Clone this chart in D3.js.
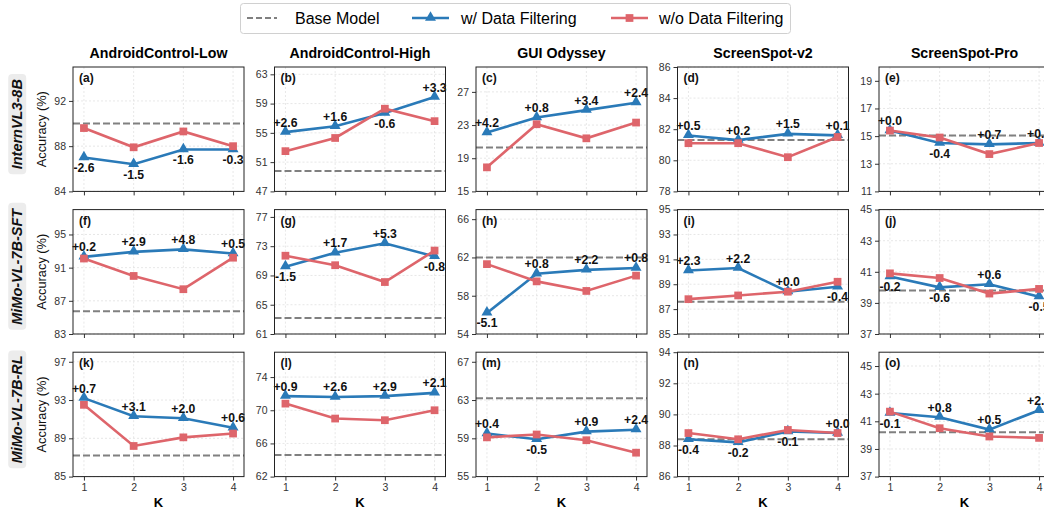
<!DOCTYPE html>
<html>
<head>
<meta charset="utf-8">
<script src="https://cdn.jsdelivr.net/npm/d3@7"></script>
<style>
  body { margin: 0; background: #fff; }
  text { font-family: "Liberation Sans", Arial, sans-serif; }
</style>
</head>
<body>
<svg id="chart" width="1044" height="512"></svg>
<script>
// columns / rows of the grid
var datasets = ["AndroidControl-Low", "AndroidControl-High", "GUI Odyssey", "ScreenSpot-v2", "ScreenSpot-Pro"];
var models = ["InternVL3-8B", "MiMo-VL-7B-SFT", "MiMo-VL-7B-RL"];
var kValues = [1, 2, 3, 4];
var panelTags = ["a", "b", "c", "d", "e", "f", "g", "h", "i", "j", "k", "l", "m", "n", "o"];

var baseModel = [
  [90.0, 49.8, 20.3, 81.3, 15.05],
  [85.75, 63.2, 62.0, 87.6, 39.8],
  [87.2, 64.6, 63.2, 88.4, 40.2]
];

// w/ Data Filtering
var withFilter = [
  [[87.0, 86.4, 87.7, 87.7], [55.1, 55.9, 57.7, 59.9], [22.1, 23.9, 24.8, 25.7], [81.6, 81.3, 81.7, 81.6], [15.4, 14.5, 14.4, 14.5]],
  [[92.3, 92.9, 93.2, 92.7], [70.2, 72.1, 73.4, 71.6], [56.2, 60.3, 60.7, 60.9], [90.1, 90.3, 88.4, 88.8], [40.7, 40.0, 40.2, 39.4]],
  [[93.2, 91.3, 91.1, 90.1], [71.7, 71.6, 71.7, 72.1], [59.5, 58.9, 59.7, 59.9], [88.4, 88.2, 88.9, 88.8], [41.6, 41.3, 40.4, 41.8]]
];

// w/o Data Filtering
var withoutFilter = [
  [[89.6, 87.9, 89.3, 88.0], [52.5, 54.3, 58.3, 56.6], [17.9, 23.1, 21.4, 23.3], [81.1, 81.1, 80.2, 81.5], [15.4, 14.9, 13.7, 14.5]],
  [[92.1, 90.0, 88.4, 92.2], [71.7, 70.4, 68.1, 72.4], [61.3, 59.5, 58.5, 60.1], [87.8, 88.1, 88.4, 89.2], [40.9, 40.6, 39.6, 39.9]],
  [[92.5, 88.2, 89.1, 89.5], [70.8, 69.0, 68.8, 70.0], [59.1, 59.4, 58.8, 57.5], [88.8, 88.4, 89.0, 88.8], [41.7, 40.5, 39.9, 39.8]]
];

var deltas = [
  [["-2.6", "-1.5", "-1.6", "-0.3"], ["+2.6", "+1.6", "-0.6", "+3.3"], ["+4.2", "+0.8", "+3.4", "+2.4"], ["+0.5", "+0.2", "+1.5", "+0.1"], ["+0.0", "-0.4", "+0.7", "+0.0"]],
  [["+0.2", "+2.9", "+4.8", "+0.5"], ["-1.5", "+1.7", "+5.3", "-0.8"], ["-5.1", "+0.8", "+2.2", "+0.8"], ["+2.3", "+2.2", "+0.0", "-0.4"], ["-0.2", "-0.6", "+0.6", "-0.5"]],
  [["+0.7", "+3.1", "+2.0", "+0.6"], ["+0.9", "+2.6", "+2.9", "+2.1"], ["+0.4", "-0.5", "+0.9", "+2.4"], ["-0.4", "-0.2", "-0.1", "+0.0"], ["-0.1", "+0.8", "+0.5", "+2.0"]]
];

var yDomains = [
  [[84, 95], [47, 64], [15, 30], [78, 86], [11, 20]],
  [[83, 98], [61, 78], [54, 67], [85, 95], [37, 45]],
  [[85, 98], [62, 77], [55, 68], [86, 94], [37, 46]]
];

var yTicks = [
  [[84, 88, 92], [47, 51, 55, 59, 63], [15, 19, 23, 27], [78, 80, 82, 84, 86], [11, 13, 15, 17, 19]],
  [[83, 87, 91, 95], [61, 65, 69, 73, 77], [54, 58, 62, 66], [85, 87, 89, 91, 93, 95], [37, 39, 41, 43, 45]],
  [[85, 89, 93, 97], [62, 66, 70, 74], [55, 59, 63, 67], [86, 88, 90, 92, 94], [37, 39, 41, 43, 45]]
];

var blue = "#2a7ab8", red = "#de656b", gray = "#808080";

var svg = d3.select("#chart");

var pw = 171, ph = 124.4;
var colX = function(c) { return 73 + c * 201.5; };
var rowY = function(r) { return 67 + r * 142.6; };

var x = d3.scaleLinear().domain([0.78, 4.22]).range([0, pw]);

var triangle = d3.symbol().type(d3.symbolTriangle).size(52);
var square = d3.symbol().type(d3.symbolSquare).size(60);

// legend
var leg = svg.append("g");
leg.append("rect").attr("x", 240.5).attr("y", 3.5).attr("width", 550).attr("height", 30)
  .attr("rx", 3).attr("fill", "#fff").attr("stroke", "#d0d0d0");
leg.append("line").attr("x1", 247).attr("x2", 277).attr("y1", 18).attr("y2", 18)
  .attr("stroke", gray).attr("stroke-width", 2).attr("stroke-dasharray", "6,3");
leg.append("text").attr("x", 295).attr("y", 24).attr("font-size", 16).text("Base Model");
leg.append("line").attr("x1", 412).attr("x2", 449).attr("y1", 18).attr("y2", 18)
  .attr("stroke", blue).attr("stroke-width", 2.5);
leg.append("path").attr("d", triangle).attr("transform", "translate(430.5,17.5)").attr("fill", blue);
leg.append("text").attr("x", 461).attr("y", 24).attr("font-size", 16).text("w/ Data Filtering");
leg.append("line").attr("x1", 611).attr("x2", 648).attr("y1", 18).attr("y2", 18)
  .attr("stroke", red).attr("stroke-width", 2.5);
leg.append("path").attr("d", square).attr("transform", "translate(629.5,18)").attr("fill", red);
leg.append("text").attr("x", 659).attr("y", 24).attr("font-size", 16).text("w/o Data Filtering");

// column titles
datasets.forEach(function(name, c) {
  svg.append("text").attr("x", colX(c) + pw / 2).attr("y", 58)
    .attr("text-anchor", "middle").attr("font-size", 14.2).attr("font-weight", "bold")
    .text(name);
});

// row labels
models.forEach(function(name, r) {
  var cy = rowY(r) + ph / 2 - 5;
  var g = svg.append("g").attr("transform", "translate(17," + cy + ") rotate(-90)");
  var t = g.append("text").attr("text-anchor", "middle").attr("dy", "0.36em")
    .attr("font-size", 14.5).attr("font-weight", "bold").attr("font-style", "italic")
    .attr("fill", "#111").text(name);
  var bb = t.node().getBBox();
  g.insert("rect", "text").attr("x", bb.x - 5).attr("y", bb.y - 1)
    .attr("width", bb.width + 10).attr("height", bb.height + 2)
    .attr("rx", 4).attr("fill", "#ececec");
  svg.append("text")
    .attr("transform", "translate(46," + (rowY(r) + ph / 2) + ") rotate(-90)")
    .attr("text-anchor", "middle").attr("font-size", 12.8).attr("fill", "#111")
    .text("Accuracy (%)");
});

var line = d3.line();

for (var r = 0; r < models.length; r++) {
  for (var c = 0; c < datasets.length; c++) {
    var g = svg.append("g").attr("transform", "translate(" + colX(c) + "," + rowY(r) + ")");
    var y = d3.scaleLinear().domain(yDomains[r][c]).range([ph, 0]);

    // grid
    g.append("g").selectAll("line").data(yTicks[r][c]).join("line")
      .attr("x1", 0).attr("x2", pw).attr("y1", y).attr("y2", y)
      .attr("stroke", "#dcdcdc").attr("stroke-width", 0.7).attr("stroke-dasharray", "2,2");
    g.append("g").selectAll("line").data(kValues).join("line")
      .attr("y1", 0).attr("y2", ph).attr("x1", x).attr("x2", x)
      .attr("stroke", "#dcdcdc").attr("stroke-width", 0.7).attr("stroke-dasharray", "2,2");

    // axes
    var ya = g.append("g").call(d3.axisLeft(y).tickValues(yTicks[r][c]).tickSize(4).tickPadding(3));
    ya.select(".domain").remove();
    ya.selectAll("text").attr("font-size", 10.5).attr("fill", "#333").attr("font-family", null);
    ya.selectAll("line").attr("stroke", "#333");

    var xa = g.append("g").attr("transform", "translate(0," + ph + ")")
      .call(d3.axisBottom(x).tickValues(kValues).tickSize(4).tickPadding(3).tickFormat(d3.format("d")));
    xa.select(".domain").remove();
    xa.selectAll("line").attr("stroke", "#333");
    xa.selectAll("text").attr("font-size", 10.5).attr("fill", "#333").attr("font-family", null);
    if (r < models.length - 1) xa.selectAll("text").remove();

    // base model
    g.append("line").attr("x1", 0).attr("x2", pw)
      .attr("y1", y(baseModel[r][c])).attr("y2", y(baseModel[r][c]))
      .attr("stroke", gray).attr("stroke-width", 2).attr("stroke-dasharray", "7,3");

    var bPts = kValues.map(function(k, i) { return [x(k), y(withFilter[r][c][i])]; });
    var rPts = kValues.map(function(k, i) { return [x(k), y(withoutFilter[r][c][i])]; });

    g.append("path").attr("d", line(bPts)).attr("fill", "none")
      .attr("stroke", blue).attr("stroke-width", 2.6);
    g.selectAll(".tri").data(bPts).join("path").attr("class", "tri")
      .attr("d", triangle).attr("fill", blue)
      .attr("transform", function(p) { return "translate(" + p[0] + "," + (p[1] - 0.5) + ")"; });

    g.append("path").attr("d", line(rPts)).attr("fill", "none")
      .attr("stroke", red).attr("stroke-width", 2.6);
    g.selectAll(".sq").data(rPts).join("path").attr("class", "sq")
      .attr("d", square).attr("fill", red)
      .attr("transform", function(p) { return "translate(" + p[0] + "," + p[1] + ")"; });

    // delta labels
    g.selectAll(".dl").data(deltas[r][c]).join("text").attr("class", "dl")
      .attr("x", function(d, i) { return bPts[i][0]; })
      .attr("y", function(d, i) { return d[0] === "-" ? bPts[i][1] + 14.5 : bPts[i][1] - 5.5; })
      .attr("text-anchor", "middle").attr("font-size", 12.2).attr("font-weight", "bold")
      .attr("fill", "#111").text(function(d) { return d; });

    // frame
    g.append("rect").attr("width", pw).attr("height", ph)
      .attr("fill", "none").attr("stroke", "#222").attr("stroke-width", 1);

    g.append("text").attr("x", 6).attr("y", 15).attr("font-size", 12).attr("font-weight", "bold")
      .attr("fill", "#111").text("(" + panelTags[r * 5 + c] + ")");

    if (r === models.length - 1) {
      g.append("text").attr("x", pw / 2).attr("y", ph + 30).attr("text-anchor", "middle")
        .attr("font-size", 13).attr("font-weight", "bold").text("K");
    }
  }
}
</script>
</body>
</html>
